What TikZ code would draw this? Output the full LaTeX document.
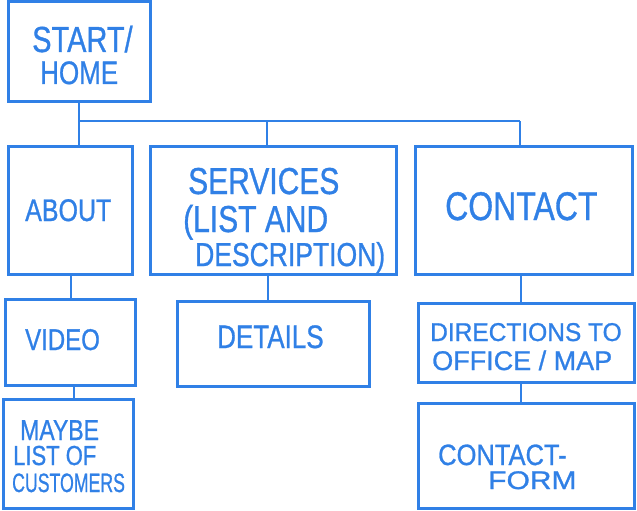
\documentclass[tikz,border=0pt]{standalone}
\usepackage{fontspec}
\setmainfont{Liberation Sans}[BoldFont=Liberation Sans, BoldFeatures={FakeBold=1}]
\usepackage{graphicx}
\definecolor{pen}{RGB}{48,128,230}
\newcommand{\handtxt}[3][1.25]{\fontsize{#2}{#2}\selectfont\bfseries\scalebox{1}[#1]{#3}}
\begin{document}
\begin{tikzpicture}[x=1pt,y=-1pt,
  box/.style={draw=pen, line width=3pt, inner sep=0pt, outer sep=0pt, anchor=north west},
  link/.style={draw=pen, line width=2.6pt},
  lbl/.style={text=pen, inner sep=0pt, anchor=base west}]
\useasboundingbox (0,0) rectangle (637,511);
% boxes
\node[box, minimum width=142pt, minimum height=99pt]  (start)      at (8,2)     {};
\node[box, minimum width=124pt, minimum height=128pt] (about)      at (8,146)   {};
\node[box, minimum width=246pt, minimum height=128pt] (services)   at (150,146) {};
\node[box, minimum width=217pt, minimum height=128pt] (contact)    at (415,146) {};
\node[box, minimum width=130pt, minimum height=86pt]  (video)      at (5,299)   {};
\node[box, minimum width=192pt, minimum height=85pt]  (details)    at (177,301) {};
\node[box, minimum width=216pt, minimum height=79pt]  (directions) at (418,303) {};
\node[box, minimum width=130pt, minimum height=109pt] (maybe)      at (3,399)   {};
\node[box, minimum width=216pt, minimum height=105pt] (form)       at (418,403) {};
% connectors
\coordinate (bus) at (0,121);
\coordinate (jS) at (267,121);
\coordinate (jC) at (520,121);
\coordinate (xA) at (71,0);
\coordinate (xV) at (74,0);
\coordinate (xD) at (268,0);
\coordinate (xC) at (521,0);
\draw[link] (start.south) -- (start.south |- about.north);
\draw[link] (start.south |- bus) -- (jC);
\draw[link] (jS) -- (jS |- services.north);
\draw[link] (jC) -- (jC |- contact.north);
\draw[link] (about.south -| xA) -- (video.north -| xA);
\draw[link] (video.south -| xV) -- (maybe.north -| xV);
\draw[link] (services.south -| xD) -- (details.north -| xD);
\draw[link] (contact.south -| xC) -- (directions.north -| xC);
\draw[link] (directions.south -| xC) -- (form.north -| xC);
% labels
\node[lbl] (tStart1) at (32,52)  {\handtxt{29}{START/}};
\node[lbl] (tStart2) at (40,84)  {\handtxt{26}{HOME}};
\node[lbl] (tAbout)  at (25,221) {\handtxt{25}{ABOUT}};
\node[lbl] (tServ1)  at (188,194) {\handtxt{30}{SERVICES}};
\node[lbl] (tServ2)  at (183,232) {\handtxt{30}{(LIST AND}};
\node[lbl] (tServ3)  at (195,266) {\handtxt{26.5}{DESCRIPTION)}};
\node[lbl] (tContact) at (445,220) {\handtxt{32}{CONTACT}};
\node[lbl] (tVideo)  at (25,350) {\handtxt{24}{VIDEO}};
\node[lbl] (tDetails) at (217,348) {\handtxt{26}{DETAILS}};
\node[lbl] (tDir1)   at (430,341) {\handtxt[1.05]{24.5}{DIRECTIONS TO}};
\node[lbl] (tDir2)   at (432,370) {\handtxt[1.0]{27}{OFFICE / MAP}};
\node[lbl] (tMaybe1) at (20,440) {\handtxt{23}{MAYBE}};
\node[lbl] (tMaybe2) at (13,465) {\handtxt{22}{LIST OF}};
\node[lbl] (tMaybe3) at (12,492) {\handtxt[1.5]{17.7}{CUSTOMERS}};
\node[lbl] (tForm1)  at (438,465) {\handtxt[1.15]{25.5}{CONTACT-}};
\node[lbl] (tForm2)  at (488,489) {\handtxt[0.85]{30}{FORM}};
\end{tikzpicture}
\end{document}
